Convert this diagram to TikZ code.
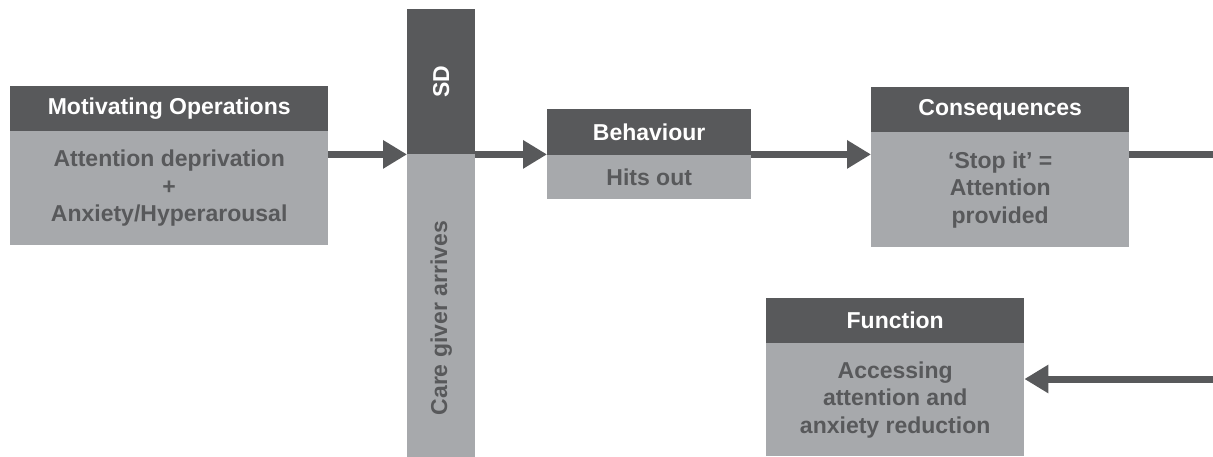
\documentclass[tikz,border=0pt]{standalone}
\usepackage{fontspec}
\setmainfont{Liberation Sans}
\usetikzlibrary{arrows.meta}
\definecolor{darkg}{HTML}{58595B}
\definecolor{lightg}{HTML}{A7A9AC}
\begin{document}
\begin{tikzpicture}[x=1pt,y=-1pt,
  box/.style={rectangle, inner sep=0pt, anchor=north west, align=center,
    font=\fontsize{23}{27.5}\selectfont\bfseries},
  head/.style={box, fill=darkg, text=white},
  body/.style={box, fill=lightg, text=darkg},
  conn/.style={draw=darkg, line width=7pt},
  arr/.style={conn, -{Triangle[length=24pt,width=27pt]}}
]
\useasboundingbox (0,0) rectangle (1213,456);
% Motivating Operations
\node[head, minimum width=318pt, minimum height=45pt] (moh) at (10,86) {Motivating Operations};
\node[body, minimum width=318pt, minimum height=114pt] (mob) at (10,131) {Attention deprivation\\+\\Anxiety/Hyperarousal};
% SD
\node[head, minimum width=68pt, minimum height=145pt] (sdh) at (407,9) {};
\node[rotate=90, text=white, font=\fontsize{23}{27.5}\selectfont\bfseries] (sdt) at (sdh.center) {SD};
\node[body, minimum width=68pt, minimum height=328pt] (sdb) at (407,154) {};
\node[rotate=90, text=darkg, font=\fontsize{23}{27.5}\selectfont\bfseries] (sdbt) at (sdb.center) {Care giver arrives};
% Behaviour
\node[head, minimum width=204pt, minimum height=46pt] (behh) at (547,109) {Behaviour};
\node[body, minimum width=204pt, minimum height=44pt] (behb) at (547,155) {Hits out};
% Consequences
\node[head, minimum width=258pt, minimum height=45pt] (consh) at (871,87) {Consequences};
\node[body, minimum width=258pt, minimum height=115pt] (consb) at (871,132) {‘Stop it’ =\\Attention\\provided};
% Function
\node[head, minimum width=258pt, minimum height=45pt] (funch) at (766,298) {Function};
\node[body, minimum width=258pt, minimum height=113pt] (funcb) at (766,343) {Accessing\\attention and\\anxiety reduction};
% edge coordinates
\coordinate (e1) at (1214,154);
\coordinate (e2) at (1214,379);
% connectors
\draw[arr] (mob.east |- sdh.south) -- (sdh.south west);
\draw[arr] (sdh.south east) -- (behh.south west |- sdh.south);
\draw[arr] (behh.south east |- sdh.south) -- (consb.west |- sdh.south);
\draw[conn] (consb.east |- e1) -- (e1);
\draw[arr] (e2) -- (funcb.east |- e2);
\end{tikzpicture}
\end{document}
